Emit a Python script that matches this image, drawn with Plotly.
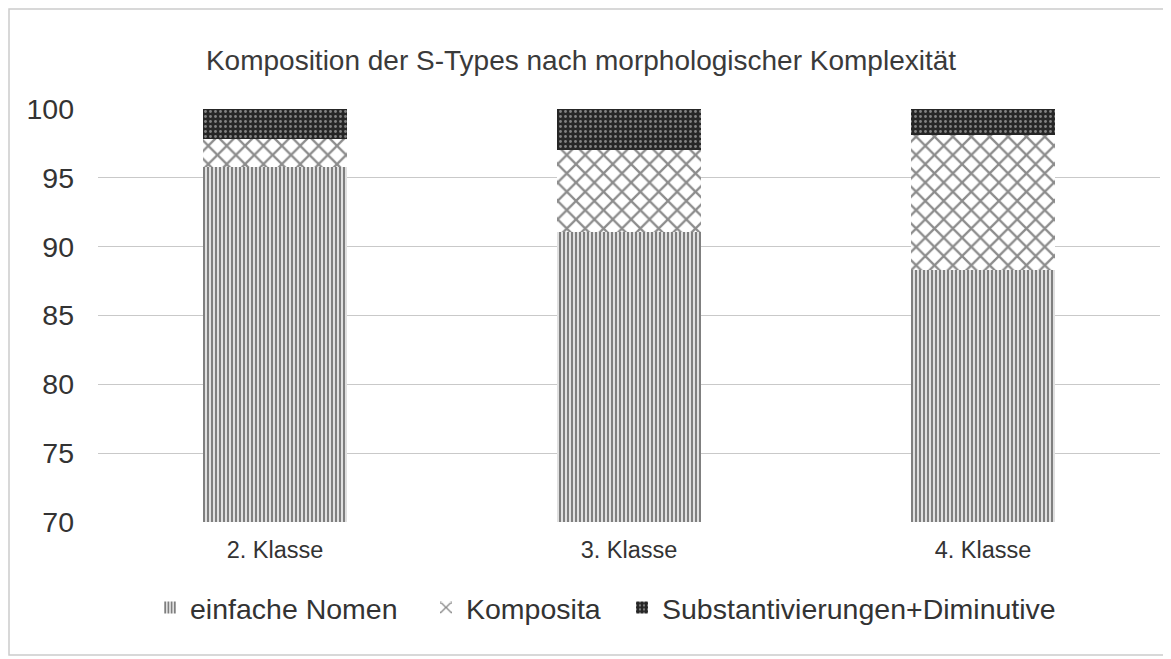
import plotly.graph_objects as go

categories = ["2. Klasse", "3. Klasse", "4. Klasse"]
einfache_nomen = [95.8, 91.1, 88.3]
komposita = [2.0, 5.9, 9.8]
substantivierungen = [2.2, 3.0, 1.9]
y_ticks = [70, 75, 80, 85, 90, 95, 100]

fig = go.Figure()
fig.add_trace(go.Bar(
    x=categories, y=einfache_nomen, name="einfache Nomen", legend="legend", showlegend=True,
    marker=dict(color="white", line=dict(width=0),
                pattern=dict(shape="|", fgcolor="#000000", bgcolor="white", size=4, solidity=0.62)),
))
fig.add_trace(go.Bar(
    x=categories, y=komposita, name="Komposita", legend="legend2", showlegend=True,
    marker=dict(color="white", line=dict(width=0),
                pattern=dict(shape="x", fgcolor="#1a1a1a", bgcolor="white", size=13, solidity=0.32)),
))
fig.add_trace(go.Bar(
    x=categories, y=substantivierungen, name="Substantivierungen+Diminutive", legend="legend3", showlegend=True,
    marker=dict(color="#262626", line=dict(width=0),
                pattern=dict(shape=".", fgcolor="#e0e0e0", bgcolor="#262626", size=5, solidity=0.25)),
))

legend_common = dict(orientation="h", y=-0.208, yanchor="middle", xanchor="left",
                     font=dict(size=28.5, color="#333333"), itemwidth=30,
                     bgcolor="rgba(0,0,0,0)", visible=True)

plot_w = 1062
fig.update_layout(
    barmode="stack",
    bargap=0.596,
    showlegend=True,
    width=1163, height=651,
    margin=dict(l=90, r=11, t=101, b=137),
    paper_bgcolor="white", plot_bgcolor="white",
    font=dict(family="Liberation Sans, Arial, sans-serif", color="#333333"),
    title=dict(text="Komposition der S-Types nach morphologischer Komplexität",
               x=0.4927, xref="container", xanchor="center",
               y=0.920, yref="container", yanchor="middle",
               font=dict(size=28, color="#3a3a3a")),
    xaxis=dict(showgrid=False, showline=False, ticks="", ticklabelstandoff=11,
               tickfont=dict(size=23.5, color="#333333")),
    yaxis=dict(range=[70, 100], tickvals=y_ticks, showgrid=True, gridcolor="#c9c9c9", gridwidth=1.2,
               zeroline=False, showline=False, ticks="", ticklabelstandoff=23,
               tickfont=dict(size=28.5, color="#333333")),
    legend=dict(x=(142 - 90) / plot_w, **legend_common),
    legend2=dict(x=(418 - 90) / plot_w, **legend_common),
    legend3=dict(x=(614 - 90) / plot_w, **legend_common),
    shapes=[dict(type="rect", xref="paper", yref="paper",
                 x0=(1 - 90) / plot_w, x1=(1156 - 90) / plot_w, y0=-0.322, y1=1.242,
                 line=dict(color="#cccccc", width=1.5), layer="below")],
)

fig.write_html("out.html")
